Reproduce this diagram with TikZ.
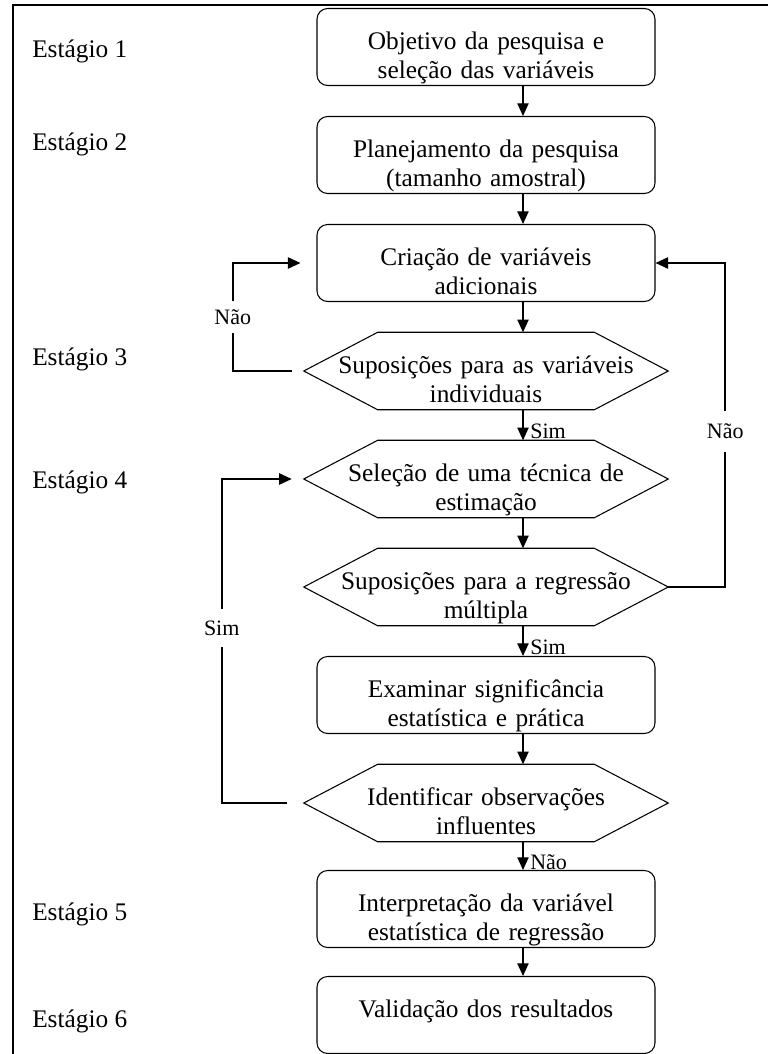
\documentclass[tikz,border=0pt]{standalone}
\usepackage{fontspec}
\setmainfont{Liberation Serif}
\usetikzlibrary{arrows.meta}

\tikzset{
  caixa/.style={draw, line width=0.8pt, rounded corners=8pt, minimum width=253.5pt,
    text width=240pt, align=center, inner xsep=0pt, inner ysep=0pt,
    text height=30.75pt, text depth=27pt, font=\fontsize{19}{21.75}\selectfont},
  decisao/.style={minimum width=273pt, text width=260pt, align=center,
    inner xsep=0pt, inner ysep=0pt, text height=30.75pt, text depth=27pt,
    font=\fontsize{19}{21.75}\selectfont},
  seta/.style={-{Triangle[length=9.5pt,width=8.5pt]}, line width=0.9pt},
  retorno/.style={seta, line width=1.3pt},
  rotulo/.style={font=\fontsize{16.5}{18}\selectfont, inner sep=0pt},
  estagio/.style={anchor=base west, inner sep=0pt, font=\fontsize{19}{22}\selectfont},
}

\begin{document}
\begin{tikzpicture}[x=0.75pt,y=-0.75pt]
\useasboundingbox (0,0) rectangle (768,1054);
\draw[line width=1.5pt] (13,1054) -- (13,5) -- (768,5);

% estagios
\node (est1) at (32,57) [estagio] {Estágio 1};
\node (est2) at (32,150) [estagio] {Estágio 2};
\node (est3) at (32,365) [estagio] {Estágio 3};
\node (est4) at (32,488) [estagio] {Estágio 4};
\node (est5) at (32,920) [estagio] {Estágio 5};
\node (est6) at (32,1027) [estagio] {Estágio 6};

% etapas
\node (objetivo) at (486,47) [caixa] {Objetivo da pesquisa e\\seleção das variáveis};
\node (planejamento) at (486,155) [caixa] {Planejamento da pesquisa\\(tamanho amostral)};
\node (criacao) at (486,263) [caixa] {Criação de variáveis\\adicionais};
\node (supvar) at (486,371) [decisao] {Suposições para as variáveis\\individuais};
\node (selecao) at (486,479) [decisao] {Seleção de uma técnica de\\estimação};
\node (supreg) at (486,587) [decisao] {Suposições para a regressão\\múltipla};
\node (examinar) at (486,695) [caixa] {Examinar significância\\estatística e prática};
\node (identificar) at (486,803) [decisao] {Identificar observações\\influentes};
\node (interpretacao) at (486,909) [caixa] {Interpretação da variável\\estatística de regressão};
\node (validacao) at (486,1015) [caixa] {Validação dos resultados};

\foreach \n in {supvar,selecao,supreg,identificar}
  \draw[line width=0.8pt] (\n.west) -- ([xshift=55.5pt]\n.north west)
    -- ([xshift=-55.5pt]\n.north east) -- (\n.east)
    -- ([xshift=-55.5pt]\n.south east) -- ([xshift=55.5pt]\n.south west) -- cycle;

% fluxo principal
\foreach \a/\b in {objetivo/planejamento,planejamento/criacao,criacao/supvar,selecao/supreg,examinar/identificar,interpretacao/validacao}
  \draw[seta] ([xshift=27.75pt]\a.south) -- ([xshift=27.75pt]\b.north);
\draw[seta] ([xshift=27.75pt]supvar.south) -- node[rotulo,right,pos=0.7,inner xsep=5pt] (sim1) {Sim} ([xshift=27.75pt]selecao.north);
\draw[seta] ([xshift=27.75pt]supreg.south) -- node[rotulo,right,pos=0.7,inner xsep=5pt] (sim2) {Sim} ([xshift=27.75pt]examinar.north);
\draw[seta] ([xshift=27.75pt]identificar.south) -- node[rotulo,right,pos=0.73,inner xsep=5pt] (nao3) {Não} ([xshift=27.75pt]interpretacao.north);

% retornos
\draw[retorno, shorten <=9pt, shorten >=12pt] (supvar.west) -- ++(-71,0)
  |- node[rotulo,pos=0.25,fill=white,inner ysep=6pt] (nao1) {Não} (criacao.west);
\draw[retorno] (supreg.east) -- ++(57,0)
  |- node[rotulo,pos=0.24,fill=white,inner ysep=10pt] (nao2) {Não} (criacao.east);
\draw[retorno, shorten <=12.75pt, shorten >=9pt] (identificar.west) -- ++(-82,0)
  |- node[rotulo,pos=0.27,fill=white,inner ysep=9pt] (sim3) {Sim} (selecao.west);
\end{tikzpicture}
\end{document}
